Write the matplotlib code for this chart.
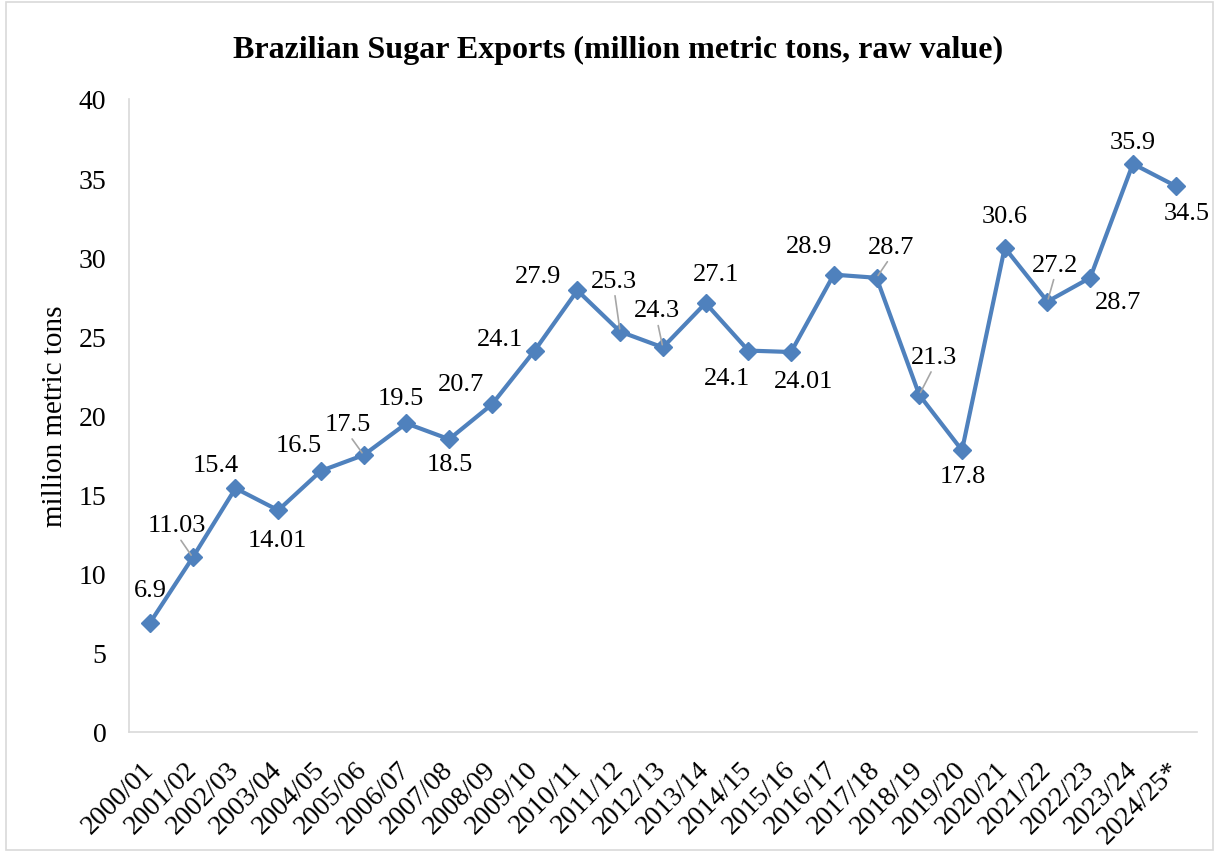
import matplotlib
matplotlib.use("Agg")
import matplotlib.pyplot as plt
from matplotlib.patches import Rectangle

# ==========================================
# data
# ==========================================
seasons = ['2000/01', '2001/02', '2002/03', '2003/04', '2004/05', '2005/06', '2006/07',
           '2007/08', '2008/09', '2009/10', '2010/11', '2011/12', '2012/13', '2013/14',
           '2014/15', '2015/16', '2016/17', '2017/18', '2018/19', '2019/20', '2020/21',
           '2021/22', '2022/23', '2023/24', '2024/25*']
exports = [6.9, 11.03, 15.4, 14.01, 16.5, 17.5, 19.5, 18.5, 20.7, 24.1, 27.9, 25.3, 24.3,
           27.1, 24.1, 24.01, 28.9, 28.7, 21.3, 17.8, 30.6, 27.2, 28.7, 35.9, 34.5]
value_text = ['6.9', '11.03', '15.4', '14.01', '16.5', '17.5', '19.5', '18.5', '20.7', '24.1',
              '27.9', '25.3', '24.3', '27.1', '24.1', '24.01', '28.9', '28.7', '21.3', '17.8',
              '30.6', '27.2', '28.7', '35.9', '34.5']

# label placement (pixel offsets from the point) and which ones get a leader line
label_offsets = [(0, 33), (-16, 32), (-20, 23), (-1, -30), (-22, 26), (-16, 31), (-6, 25),
                 (1, -25), (-31, 20), (-35, 12), (-39, 14), (-6, 51), (-6, 37), (10, 29),
                 (-21, -27), (13, -29), (-25, 29), (15, 31), (15, 38), (1, -26), (0, 32),
                 (8, 37), (28, -24), (0, 22), (11, -27)]
leader = [False, True, False, False, False, True, False, False, False, False, False, True,
          True, False, False, False, False, True, True, False, False, True, False, False, False]

plt.rcParams['font.family'] = ['Liberation Serif', 'DejaVu Serif']

fig = plt.figure(figsize=(12.17, 8.53), dpi=100)
ax = fig.add_axes([0.1057, 0.1407, 0.8779, 0.7421])

# chart border
fig.patches.append(Rectangle((6 / 1217, 2 / 853), 1207 / 1217, 848 / 853, transform=fig.transFigure,
                             fill=False, edgecolor='#d9d9d9', linewidth=1.2))

x = list(range(len(seasons)))
ax.plot(x, exports, color='#4F81BD', linewidth=3, marker='D', markersize=9.5,
        markerfacecolor='#4F81BD', markeredgecolor='#4F81BD')

for i, v in enumerate(exports):
    dx, dy = label_offsets[i]
    if leader[i]:
        ax.annotate(value_text[i], xy=(i, v), xytext=(dx, dy), textcoords='offset pixels',
                    ha='center', va='center', fontsize=19,
                    arrowprops=dict(arrowstyle='-', color='#a6a6a6', lw=1.2,
                                    relpos=(0.5, 0.1), shrinkA=1, shrinkB=2))
    else:
        ax.annotate(value_text[i], xy=(i, v), xytext=(dx, dy), textcoords='offset pixels',
                    ha='center', va='center', fontsize=19)

ax.set_xlim(-0.5, len(seasons) - 0.5)
ax.set_ylim(0, 40)
ax.set_yticks(range(0, 41, 5))
ax.set_xticks(x)
ax.set_xticklabels(seasons, rotation=45, ha='right', va='center', rotation_mode='anchor')
ax.tick_params(axis='both', length=0, labelsize=20)
ax.tick_params(axis='y', pad=16)
ax.tick_params(axis='x', pad=24)

for s in ['top', 'right']:
    ax.spines[s].set_visible(False)
for s in ['left', 'bottom']:
    ax.spines[s].set_color('#d9d9d9')
    ax.spines[s].set_linewidth(1.2)

ax.set_ylabel('million metric tons', fontsize=21)
ax.yaxis.set_label_coords(-0.057, 0.5)
fig.text(0.508, 0.941, 'Brazilian Sugar Exports (million metric tons, raw value)',
         ha='center', va='center', fontsize=23, fontweight='bold')

fig.savefig('out.png', dpi=100)
